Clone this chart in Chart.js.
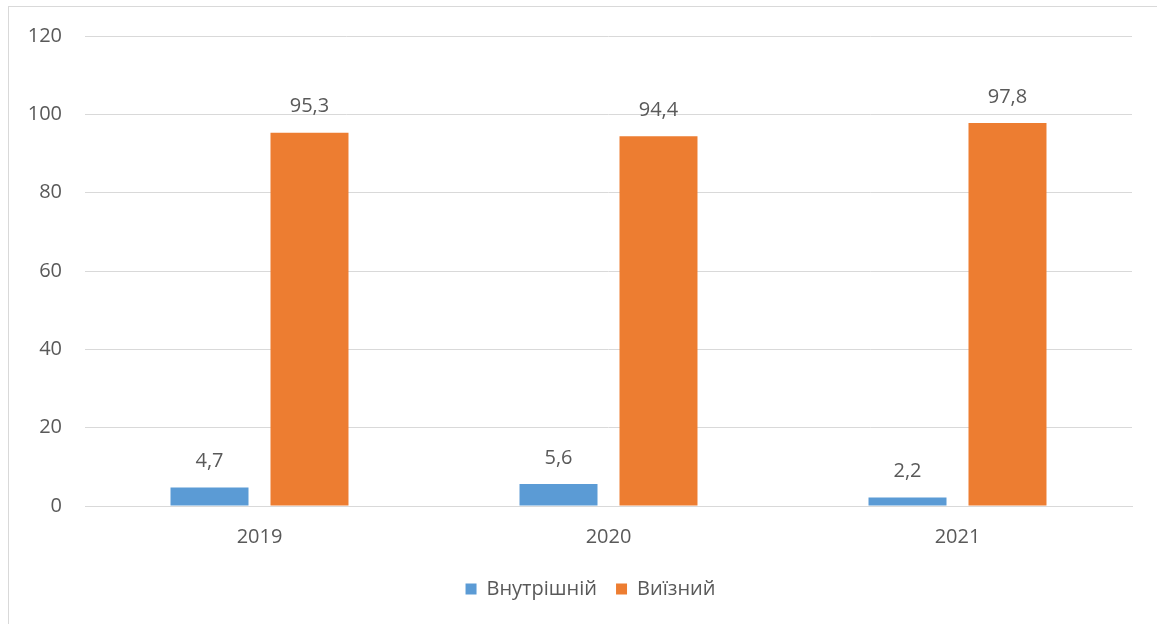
<!DOCTYPE html>
<html>
<head>
<meta charset="utf-8">
<script src="https://cdn.jsdelivr.net/npm/chart.js@4/dist/chart.umd.min.js"></script>
<style>
  html, body { margin: 0; padding: 0; background: #fff; overflow: hidden; }
  #frame { position: absolute; left: 8px; top: 6px; width: 1200px; height: 700px; border: 1px solid #d9d9d9; box-sizing: border-box; }
  #wrap { position: absolute; left: 0; top: 0; width: 1157px; height: 624px; }
</style>
</head>
<body>
<div id="frame"></div>
<div id="wrap"><canvas id="chart"></canvas></div>
<script>
// values
const years = ['2019', '2020', '2021'];
const internalShare = [4.7, 5.6, 2.2];
const outboundShare = [95.3, 94.4, 97.8];
const seriesNames = ['Внутрішній', 'Виїзний'];

const FONT = '"Open Sans", "DejaVu Sans", sans-serif';
const TEXT = '#595959';
const SIZE = 20;

function fmt(v) {
  return v.toFixed(1).replace('.', ',');
}

// draws the value above each bar (no datalabels plugin in the sandbox)
const valueLabels = {
  id: 'valueLabels',
  afterDatasetsDraw(chart) {
    const ctx = chart.ctx;
    ctx.save();
    ctx.font = SIZE + 'px ' + FONT;
    ctx.fillStyle = TEXT;
    ctx.textAlign = 'center';
    ctx.textBaseline = 'middle';
    chart.data.datasets.forEach((ds, i) => {
      chart.getDatasetMeta(i).data.forEach((bar, j) => {
        ctx.fillText(fmt(ds.data[j]), bar.x, bar.y - 26);
      });
    });
    ctx.restore();
  },
};

new Chart(document.getElementById('chart'), {
  type: 'bar',
  data: {
    labels: years,
    datasets: [
      { label: seriesNames[0], data: internalShare, backgroundColor: '#5B9BD5' },
      { label: seriesNames[1], data: outboundShare, backgroundColor: '#ED7D31' },
    ],
  },
  options: {
    responsive: true,
    maintainAspectRatio: false,
    animation: false,
    categoryPercentage: 0.573,
    barPercentage: 0.78,
    layout: { padding: { left: 24, right: 0, top: 36, bottom: 15 } },
    plugins: {
      tooltip: { enabled: false },
      legend: {
        position: 'bottom',
        labels: { boxWidth: 11, boxHeight: 11, padding: 19, color: TEXT, font: { family: FONT, size: SIZE } },
      },
    },
    scales: {
      x: {
        grid: { display: false },
        border: { display: true, color: '#d9d9d9', width: 1 },
        ticks: { color: TEXT, padding: 11, font: { family: FONT, size: SIZE } },
      },
      y: {
        min: 0,
        max: 120,
        ticks: { stepSize: 20, color: TEXT, padding: 23, font: { family: FONT, size: SIZE } },
        grid: { color: '#d9d9d9', drawTicks: false },
        border: { display: false },
        afterFit(scale) { scale.width = 61; },
      },
      // empty right-hand axis, only reserves the blank margin right of the plot
      yRight: {
        position: 'right',
        min: 0,
        max: 120,
        grid: { display: false },
        border: { display: false },
        ticks: { display: false },
        afterFit(scale) { scale.width = 25; },
      },
    },
  },
  plugins: [valueLabels],
});
</script>
</body>
</html>
